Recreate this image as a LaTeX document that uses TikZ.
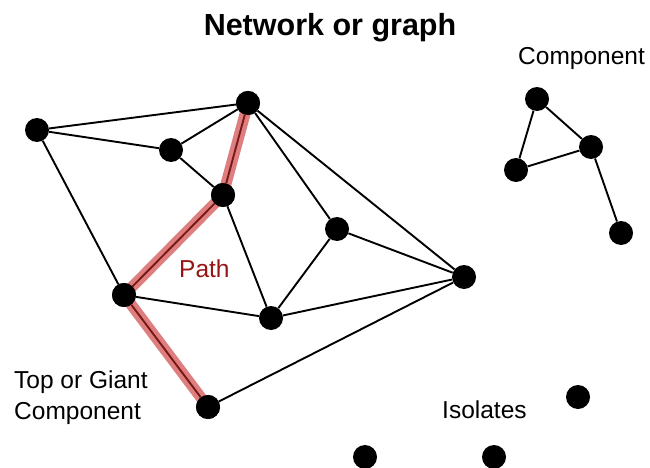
\documentclass[tikz,border=0pt]{standalone}
\usepackage{fontspec}
\setmainfont{Liberation Sans}
\definecolor{pathred}{RGB}{200,40,40}
\definecolor{labelred}{RGB}{150,20,20}
\begin{document}
\begin{tikzpicture}[x=1pt,y=-1pt,
  vtx/.style={circle,fill=black,inner sep=0pt,minimum size=24pt},
  edge/.style={line width=1.9pt,black},
  hl/.style={line width=11pt,pathred,opacity=0.6},
  lbl/.style={anchor=base west,inner sep=0pt,font=\fontsize{24.5}{29}\selectfont},
  ttl/.style={anchor=base,inner sep=0pt,font=\fontsize{30.5}{36}\selectfont\bfseries}]
\useasboundingbox (0,0) rectangle (650,468);
% nodes
\node[vtx] (A) at (37,130) {};
\node[vtx] (B) at (248,103) {};
\node[vtx] (C) at (171,150) {};
\node[vtx] (D) at (223,195) {};
\node[vtx] (E) at (337,229) {};
\node[vtx] (F) at (464,277) {};
\node[vtx] (G) at (124,295) {};
\node[vtx] (H) at (271,318) {};
\node[vtx] (I) at (208,407) {};
\node[vtx] (J) at (537,99) {};
\node[vtx] (K) at (591,147) {};
\node[vtx] (L) at (516,170) {};
\node[vtx] (M) at (621,233) {};
\node[vtx] (N) at (578,397) {};
\node[vtx] (O) at (365,457) {};
\node[vtx] (P) at (494,457) {};
% edges
\draw[edge] (A) -- (B);
\draw[edge] (A) -- (C);
\draw[edge] (A) -- (G);
\draw[edge] (C) -- (B);
\draw[edge] (C) -- (D);
\draw[edge] (B) -- (D);
\draw[edge] (B) -- (E);
\draw[edge] (B) -- (F);
\draw[edge] (D) -- (G);
\draw[edge] (D) -- (H);
\draw[edge] (E) -- (H);
\draw[edge] (E) -- (F);
\draw[edge] (G) -- (H);
\draw[edge] (H) -- (F);
\draw[edge] (G) -- (I);
\draw[edge] (I) -- (F);
\draw[edge] (J) -- (K);
\draw[edge] (J) -- (L);
\draw[edge] (L) -- (K);
\draw[edge] (K) -- (M);
% highlighted path
\draw[hl,line join=round] (B.center) -- (D.center) -- (G.center) -- (I.center);
% redraw path nodes on top
\node[vtx] at (B) {};
\node[vtx] at (D) {};
\node[vtx] at (G) {};
\node[vtx] at (I) {};
% labels
\node[ttl] (title) at (330,36) {Network or graph};
\node[lbl] (comp) at (518,65) {Component};
\node[lbl,text=labelred] (path) at (179,277) {Path};
\node[lbl] (top1) at (14,388) {Top or Giant};
\node[lbl] (top2) at (14,419) {Component};
\node[lbl] (iso) at (442,418) {Isolates};
\end{tikzpicture}
\end{document}
